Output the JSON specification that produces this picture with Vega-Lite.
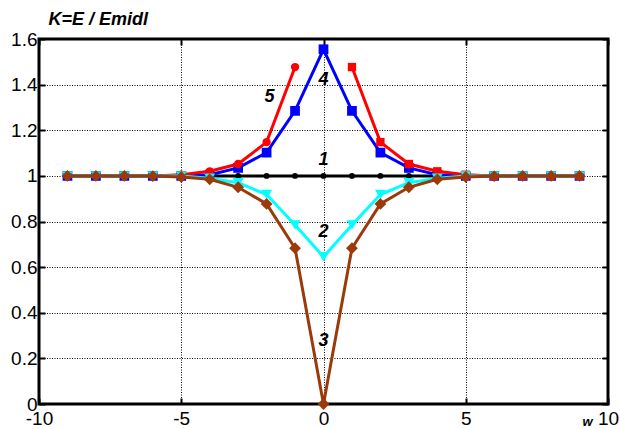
{
  "$schema": "https://vega.github.io/schema/vega-lite/v6.json",
  "width": 569,
  "height": 365,
  "autosize": "none",
  "padding": {"left": 39, "top": 39, "right": 12, "bottom": 25},
  "background": "white",
  "config": {
    "view": {"stroke": "black", "strokeWidth": 3},
    "axis": {
      "labelFont": "Liberation Sans",
      "labelFontSize": 19,
      "labelColor": "black",
      "domain": false,
      "tickColor": "black",
      "tickSize": -6,
      "tickWidth": 2,
      "gridColor": "black",
      "gridDash": [1, 1.5],
      "gridOpacity": 1,
      "gridWidth": 1
    }
  },
  "datasets": {
    "curves": [
      {"s": "1", "x": -9, "y": 1}, {"s": "1", "x": -8, "y": 1}, {"s": "1", "x": -7, "y": 1}, {"s": "1", "x": -6, "y": 1}, {"s": "1", "x": -5, "y": 1}, {"s": "1", "x": -4, "y": 1}, {"s": "1", "x": -3, "y": 1}, {"s": "1", "x": -2, "y": 1}, {"s": "1", "x": -1, "y": 1}, {"s": "1", "x": 0, "y": 1}, {"s": "1", "x": 1, "y": 1}, {"s": "1", "x": 2, "y": 1}, {"s": "1", "x": 3, "y": 1}, {"s": "1", "x": 4, "y": 1}, {"s": "1", "x": 5, "y": 1}, {"s": "1", "x": 6, "y": 1}, {"s": "1", "x": 7, "y": 1}, {"s": "1", "x": 8, "y": 1}, {"s": "1", "x": 9, "y": 1},
      {"s": "4", "x": -9, "y": 1}, {"s": "4", "x": -8, "y": 1}, {"s": "4", "x": -7, "y": 1}, {"s": "4", "x": -6, "y": 1}, {"s": "4", "x": -5, "y": 1.0}, {"s": "4", "x": -4, "y": 1.005}, {"s": "4", "x": -3, "y": 1.035}, {"s": "4", "x": -2, "y": 1.102}, {"s": "4", "x": -1, "y": 1.285}, {"s": "4", "x": 0, "y": 1.555}, {"s": "4", "x": 1, "y": 1.285}, {"s": "4", "x": 2, "y": 1.102}, {"s": "4", "x": 3, "y": 1.035}, {"s": "4", "x": 4, "y": 1.005}, {"s": "4", "x": 5, "y": 1.0}, {"s": "4", "x": 6, "y": 1}, {"s": "4", "x": 7, "y": 1}, {"s": "4", "x": 8, "y": 1}, {"s": "4", "x": 9, "y": 1},
      {"s": "5L", "x": -9, "y": 1}, {"s": "5L", "x": -8, "y": 1}, {"s": "5L", "x": -7, "y": 1}, {"s": "5L", "x": -6, "y": 1}, {"s": "5L", "x": -5, "y": 1.005}, {"s": "5L", "x": -4, "y": 1.02}, {"s": "5L", "x": -3, "y": 1.052}, {"s": "5L", "x": -2, "y": 1.148}, {"s": "5L", "x": -1, "y": 1.477},
      {"s": "5R", "x": 1, "y": 1.477}, {"s": "5R", "x": 2, "y": 1.148}, {"s": "5R", "x": 3, "y": 1.052}, {"s": "5R", "x": 4, "y": 1.02}, {"s": "5R", "x": 5, "y": 1.005}, {"s": "5R", "x": 6, "y": 1}, {"s": "5R", "x": 7, "y": 1}, {"s": "5R", "x": 8, "y": 1}, {"s": "5R", "x": 9, "y": 1},
      {"s": "2", "x": -9, "y": 1}, {"s": "2", "x": -8, "y": 1}, {"s": "2", "x": -7, "y": 1}, {"s": "2", "x": -6, "y": 1}, {"s": "2", "x": -5, "y": 1.0}, {"s": "2", "x": -4, "y": 0.99}, {"s": "2", "x": -3, "y": 0.97}, {"s": "2", "x": -2, "y": 0.918}, {"s": "2", "x": -1, "y": 0.785}, {"s": "2", "x": 0, "y": 0.645}, {"s": "2", "x": 1, "y": 0.785}, {"s": "2", "x": 2, "y": 0.918}, {"s": "2", "x": 3, "y": 0.97}, {"s": "2", "x": 4, "y": 0.99}, {"s": "2", "x": 5, "y": 1.0}, {"s": "2", "x": 6, "y": 1}, {"s": "2", "x": 7, "y": 1}, {"s": "2", "x": 8, "y": 1}, {"s": "2", "x": 9, "y": 1},
      {"s": "3", "x": -9, "y": 1}, {"s": "3", "x": -8, "y": 1}, {"s": "3", "x": -7, "y": 1}, {"s": "3", "x": -6, "y": 0.999}, {"s": "3", "x": -5, "y": 0.995}, {"s": "3", "x": -4, "y": 0.985}, {"s": "3", "x": -3, "y": 0.95}, {"s": "3", "x": -2, "y": 0.877}, {"s": "3", "x": -1, "y": 0.683}, {"s": "3", "x": 0, "y": 0}, {"s": "3", "x": 1, "y": 0.683}, {"s": "3", "x": 2, "y": 0.877}, {"s": "3", "x": 3, "y": 0.95}, {"s": "3", "x": 4, "y": 0.985}, {"s": "3", "x": 5, "y": 0.995}, {"s": "3", "x": 6, "y": 0.999}, {"s": "3", "x": 7, "y": 1}, {"s": "3", "x": 8, "y": 1}, {"s": "3", "x": 9, "y": 1}
    ],
    "labels": [
      {"t": "1", "x": 0, "y": 1.07},
      {"t": "2", "x": 0, "y": 0.755},
      {"t": "3", "x": 0, "y": 0.275},
      {"t": "4", "x": 0, "y": 1.42},
      {"t": "5", "x": -1.9, "y": 1.345}
    ]
  },
  "data": {"name": "curves"},
  "encoding": {
    "x": {"field": "x", "type": "quantitative", "scale": {"domain": [-10, 10], "nice": false, "zero": false}, "axis": null},
    "y": {"field": "y", "type": "quantitative", "scale": {"domain": [0, 1.6], "nice": false}, "axis": null}
  },
  "layer": [
    {
      "mark": {"type": "point", "opacity": 0},
      "encoding": {
        "x": {"field": "x", "type": "quantitative", "axis": {"values": [-10, -5, 0, 5, 10], "labelExpr": "'' + datum.value", "labelPadding": 11, "grid": true, "title": "w", "titleX": 548, "titleY": 21, "titleAlign": "center", "titleBaseline": "alphabetic", "titleFont": "Liberation Sans", "titleFontStyle": "italic", "titleFontWeight": "bold", "titleFontSize": 13, "titleColor": "black", "labelFlush": false}},
        "y": {"field": "y", "type": "quantitative", "axis": {"values": [0, 0.2, 0.4, 0.6, 0.8, 1, 1.2, 1.4, 1.6], "labelExpr": "'' + datum.value", "labelPadding": 8, "grid": true, "title": "K=E / Emidl", "titleAngle": 0, "titleX": 9, "titleY": -15, "titleAlign": "left", "titleBaseline": "alphabetic", "titleFont": "Liberation Sans", "titleFontStyle": "italic", "titleFontWeight": "bold", "titleFontSize": 18, "titleColor": "black", "labelFlush": false}}
      }
    },
    {
      "mark": {"type": "point", "opacity": 0},
      "encoding": {
        "x": {"field": "x", "type": "quantitative", "axis": {"orient": "top", "values": [-10, -5, 0, 5, 10], "labels": false, "grid": false, "title": null}},
        "y": {"field": "y", "type": "quantitative", "axis": {"orient": "right", "values": [0, 0.2, 0.4, 0.6, 0.8, 1, 1.2, 1.4, 1.6], "labels": false, "grid": false, "title": null}}
      }
    },
    {
      "transform": [{"filter": "datum.s == '1'"}],
      "mark": {"type": "line", "color": "black", "strokeWidth": 3, "point": {"shape": "circle", "filled": true, "size": 35, "color": "black"}}
    },
    {
      "transform": [{"filter": "datum.s == '4'"}],
      "mark": {"type": "line", "color": "#0000ff", "strokeWidth": 3, "point": {"shape": "square", "filled": true, "size": 95, "color": "#0000ff"}}
    },
    {
      "transform": [{"filter": "datum.s == '5L'"}],
      "mark": {"type": "line", "color": "#ff0000", "strokeWidth": 3, "point": {"shape": "circle", "filled": true, "size": 70, "color": "#ff0000"}}
    },
    {
      "transform": [{"filter": "datum.s == '5R'"}],
      "mark": {"type": "line", "color": "#ff0000", "strokeWidth": 3, "point": {"shape": "square", "filled": true, "size": 70, "color": "#ff0000"}}
    },
    {
      "transform": [{"filter": "datum.s == '2'"}],
      "mark": {"type": "line", "color": "#00ffff", "strokeWidth": 3, "point": {"shape": "triangle-down", "filled": true, "size": 120, "color": "#00ffff"}}
    },
    {
      "transform": [{"filter": "datum.s == '3'"}],
      "mark": {"type": "line", "color": "#9a3a0a", "strokeWidth": 3, "point": {"shape": "diamond", "filled": true, "size": 140, "color": "#9a3a0a"}}
    },
    {
      "data": {"name": "labels"},
      "mark": {"type": "text", "font": "Liberation Sans", "fontStyle": "italic", "fontWeight": "bold", "fontSize": 18, "color": "black", "baseline": "middle", "align": "center"},
      "encoding": {"text": {"field": "t", "type": "nominal"}}
    }
  ],
  "resolve": {"axis": {"x": "independent", "y": "independent"}}
}
